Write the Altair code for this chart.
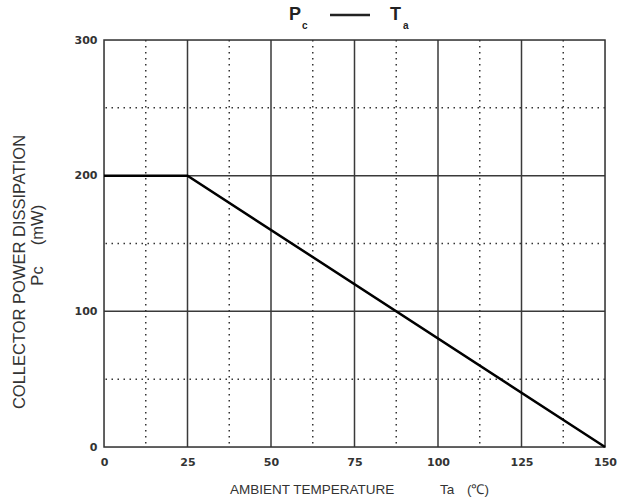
import altair as alt
import pandas as pd

# data
temp = [0, 25, 150]
power = [200, 200, 0]
x_major = [25, 50, 75, 100, 125]
x_minor = [12.5, 37.5, 62.5, 87.5, 112.5, 137.5]
y_major = [100, 200]
y_minor = [50, 150, 250]
x_ticks = [0, 25, 50, 75, 100, 125, 150]
y_ticks = [0, 100, 200, 300]
x_title = ["AMBIENT TEMPERATURE", "Ta", "(\u2103)"]
y_title = ["COLLECTOR POWER DISSIPATION", "Pc", "(mW)"]

W, H = 501, 407
FONT = "Liberation Sans"
LFONT = "DejaVu Sans"

xs = alt.Scale(domain=[0, 150], nice=False, zero=False)
ys = alt.Scale(domain=[0, 300], nice=False, zero=False)

curve = pd.DataFrame({"Ta": temp, "Pc": power})

x_axis = alt.Axis(values=x_ticks, grid=False, domain=False, ticks=False, labelFlush=False,
                  labelPadding=9, labelFont=LFONT, labelFontSize=11, labelFontWeight="bold",
                  labelColor="#333", title=None)
y_axis = alt.Axis(values=y_ticks, grid=False, domain=False, ticks=False, labelFlush=False,
                  labelPadding=7, labelFont=LFONT, labelFontSize=11, labelFontWeight="bold",
                  labelColor="#333", title=None)

vx_major = alt.Chart(pd.DataFrame({"x": x_major})).mark_rule(color="#3a3a3a", strokeWidth=1.5).encode(
    x=alt.X("x:Q", scale=xs, axis=x_axis))
vx_minor = alt.Chart(pd.DataFrame({"x": x_minor})).mark_rule(color="#333", strokeWidth=1.5, strokeDash=[1.5, 4.5]).encode(
    x=alt.X("x:Q", scale=xs, axis=x_axis))
hy_major = alt.Chart(pd.DataFrame({"y": y_major})).mark_rule(color="#3a3a3a", strokeWidth=1.5).encode(
    y=alt.Y("y:Q", scale=ys, axis=y_axis))
hy_minor = alt.Chart(pd.DataFrame({"y": y_minor})).mark_rule(color="#333", strokeWidth=1.5, strokeDash=[1.5, 4.5]).encode(
    y=alt.Y("y:Q", scale=ys, axis=y_axis))

border = alt.Chart(pd.DataFrame({"a": [0]})).mark_rect(fill=None, stroke="#333", strokeWidth=1.5).encode(
    x=alt.value(0), x2=alt.value(W), y=alt.value(0), y2=alt.value(H))

line = alt.Chart(curve).mark_line(color="#000", strokeWidth=2.5).encode(
    x=alt.X("Ta:Q", scale=xs, axis=x_axis),
    y=alt.Y("Pc:Q", scale=ys, axis=y_axis))


def txt(s, x, y, size, weight="normal", align="left", baseline="alphabetic", angle=0, color="#333"):
    kw = dict(font=FONT, fontSize=size, fontWeight=weight, align=align, baseline=baseline, color=color)
    if angle:
        kw["angle"] = angle
    return alt.Chart(pd.DataFrame({"t": [s]})).mark_text(**kw).encode(
        text="t:N", x=alt.value(x), y=alt.value(y))


# chart title  P_c —— T_a
t_P = txt("P", 185, -20, 18, "bold", color="#222")
t_c = txt("c", 198, -11, 10, "bold", color="#222")
t_dash = alt.Chart(pd.DataFrame({"a": [0]})).mark_rule(color="#222", strokeWidth=2.5).encode(
    x=alt.value(226), x2=alt.value(266), y=alt.value(-25))
t_T = txt("T", 286, -20, 18, "bold", color="#222")
t_a = txt("a", 299, -11, 10, "bold", color="#222")

# x axis title
xt1 = txt(x_title[0], 126, 454, 13.5)
xt2 = txt(x_title[1], 336, 454, 13.5)
xt3 = txt(x_title[2], 363, 454, 13.5)

# y axis title
yt1 = txt(y_title[0], -84.5, 232, 16.5, align="center", baseline="middle", angle=270)
yt2 = txt(y_title[1], -66, 236, 16.5, align="center", baseline="middle", angle=270)
yt3 = txt(y_title[2], -66, 185, 16.5, align="center", baseline="middle", angle=270)

chart = alt.layer(vx_minor, hy_minor, vx_major, hy_major, border, line,
                  t_P, t_c, t_dash, t_T, t_a, xt1, xt2, xt3, yt1, yt2, yt3).properties(
    width=W, height=H,
    autosize=alt.AutoSizeParams(type="none"),
    padding={"left": 104, "top": 40, "right": 21, "bottom": 51},
).configure_view(stroke=None).configure(background="white")

chart.save("out.html", embed_options={"renderer": "svg", "actions": False})
